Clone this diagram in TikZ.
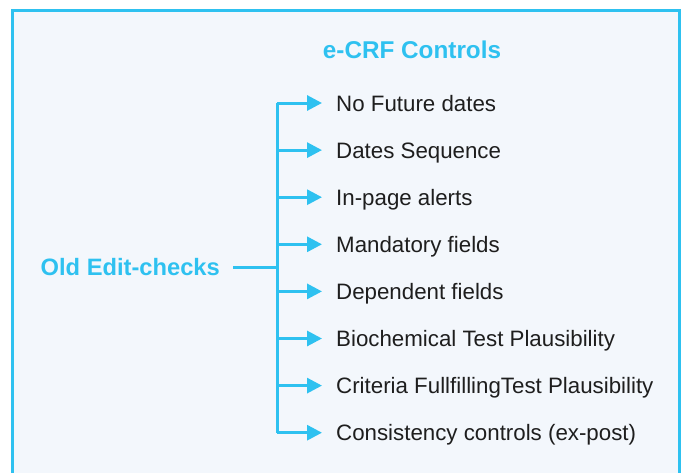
\documentclass[tikz,border=0pt]{standalone}
\usepackage{fontspec}
\setmainfont{Liberation Sans}
\usetikzlibrary{arrows.meta,positioning}

\definecolor{crfblue}{HTML}{2EC1F0}
\definecolor{crfback}{HTML}{F3F7FC}
\definecolor{crftext}{HTML}{1E1E1E}

\tikzset{
  head/.style={text=crfblue, font=\fontsize{24.3}{28}\selectfont\bfseries, inner sep=0pt},
  item/.style={text=crftext, font=\fontsize{22.3}{26}\selectfont, anchor=west,
    inner xsep=14pt, inner ysep=0pt, text height=16pt, text depth=0pt},
  link/.style={draw=crfblue, line width=3pt},
  arr/.style={link, -{Triangle[length=15pt,width=15pt]}}
}

\begin{document}
\begin{tikzpicture}[x=1pt,y=-1pt]
  \useasboundingbox (0,0) rectangle (681,472);
  \clip (0,0) rectangle (681,472);
  \draw[draw=crfblue, line width=3pt, fill=crfback] (12,10) rectangle (679,490);
  \node[head] (ctrl) at (412,50) {e-CRF Controls};
  \node[head, anchor=east, inner xsep=13pt, text height=17pt, text depth=0pt,
    font=\fontsize{23.7}{28}\selectfont\bfseries] (old) at (233,267) {Old Edit-checks};
  \coordinate (fork) at (277,267);
  \foreach \n/\t in {1/No Future dates, 2/Dates Sequence, 3/In-page alerts,
    4/Mandatory fields, 5/Dependent fields, 6/Biochemical Test Plausibility,
    7/Criteria FullfillingTest Plausibility, 8/Consistency controls (ex-post)}{
    \node[item] (i\n) at (322,{103+47.1*(\n-1)}) {\t};
    \draw[arr] (fork |- i\n.west) -- (i\n.west);
  }
  \draw[link] (fork |- i1.west) -- (fork |- i8.west);
  \draw[link] (old.east) -- (fork);
\end{tikzpicture}
\end{document}
